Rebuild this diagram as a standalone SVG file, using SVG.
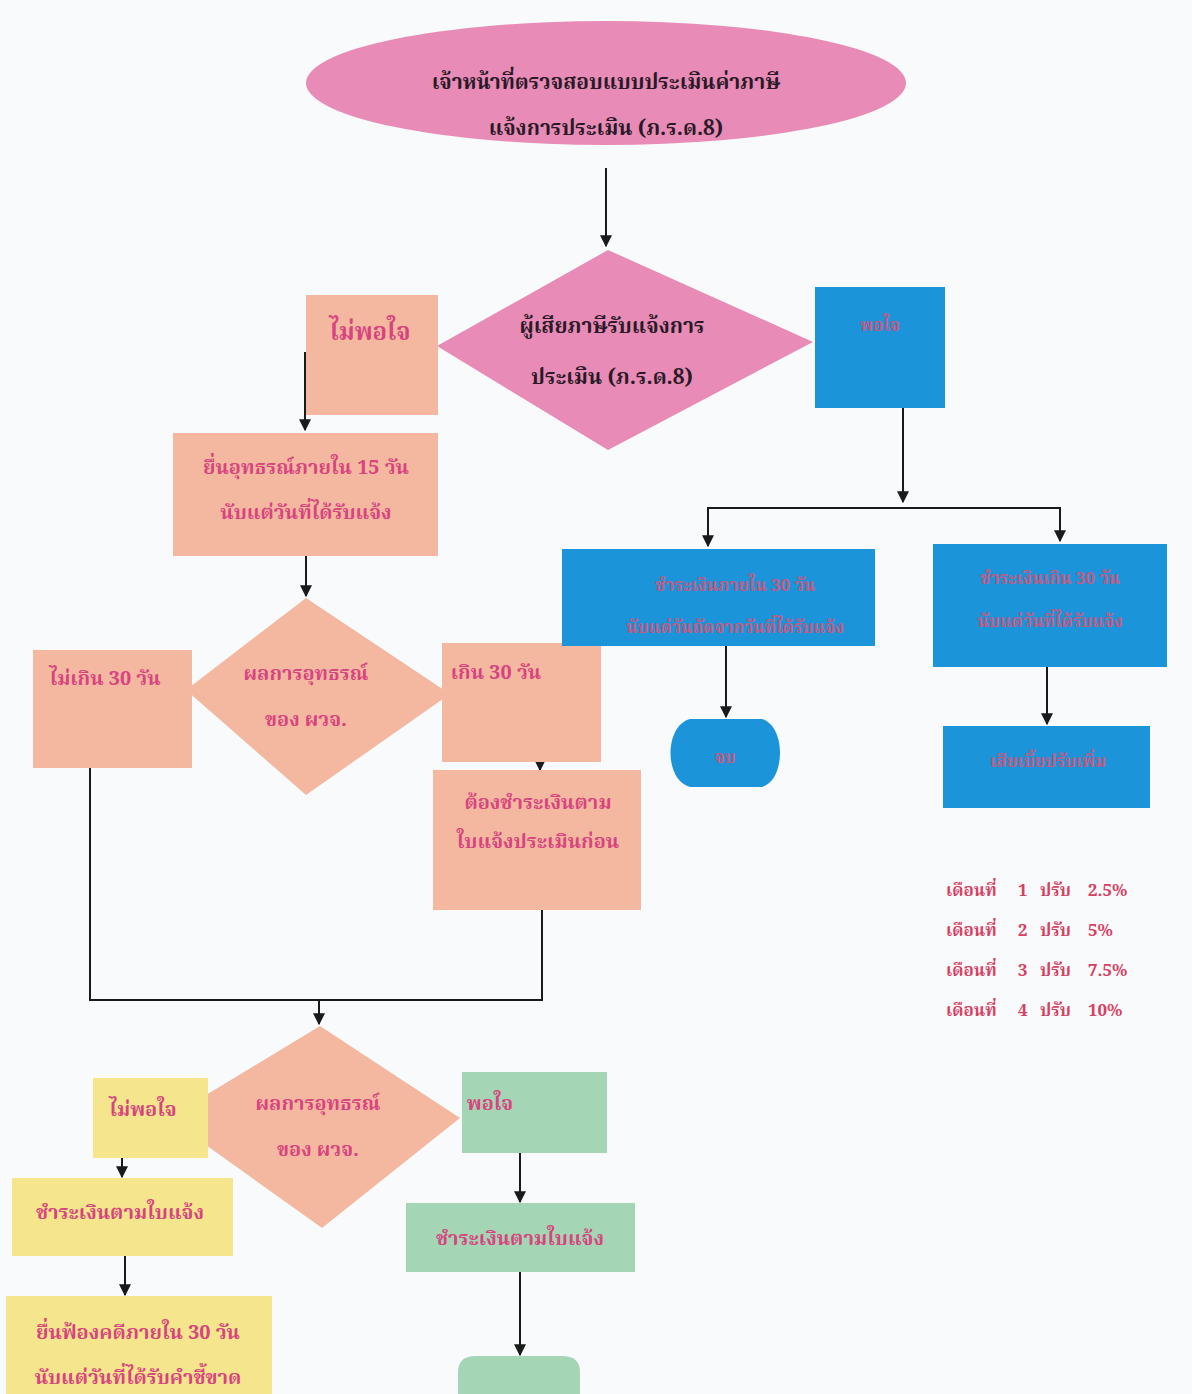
<svg xmlns="http://www.w3.org/2000/svg" width="1192" height="1394" viewBox="0 0 1192 1394">
<style>
.t{font-family:"Noto Serif Thai","Noto Sans Thai","Liberation Serif","DejaVu Serif",serif;font-weight:bold;text-anchor:middle}
.dk{fill:#2a1a28;font-size:21px}
.pk{fill:#d8447f;font-size:20px}
.bl{fill:#c9587f;font-size:17px}
.pen{fill:#d8405f;font-size:17px;text-anchor:start}
.sal{fill:#f4b8a0}
.pink{fill:#e88bb6}
.blue{fill:#1b94d9}
.yel{fill:#f5e58c}
.grn{fill:#a4d5b4}
.ln{fill:none;stroke:#1a1a1a;stroke-width:2}
</style>
<defs>
<marker id="ah" viewBox="0 0 10 10" refX="9" refY="5" markerWidth="6" markerHeight="6" orient="auto">
<path d="M0,0 L10,5 L0,10 z" fill="#1a1a1a"/>
</marker>
</defs>
<rect width="1192" height="1394" fill="#f8fafc"/>

<g id="connectors">
<path class="ln" d="M606,168 V246" marker-end="url(#ah)"/>
<path class="ln" d="M305,352 V430" marker-end="url(#ah)"/>
<path class="ln" d="M306,556 V596" marker-end="url(#ah)"/>
<path class="ln" d="M540,762 V770" marker-end="url(#ah)"/>
<path class="ln" d="M90,768 V1000 H542 V910"/>
<path class="ln" d="M319,1000 V1024" marker-end="url(#ah)"/>
<path class="ln" d="M122,1158 V1177" marker-end="url(#ah)"/>
<path class="ln" d="M125,1256 V1295" marker-end="url(#ah)"/>
<path class="ln" d="M520,1153 V1202" marker-end="url(#ah)"/>
<path class="ln" d="M520,1272 V1355" marker-end="url(#ah)"/>
<path class="ln" d="M903,408 V502" marker-end="url(#ah)"/>
<path class="ln" d="M708,546 V508 H1060 V541" marker-end="url(#ah)"/>
<path class="ln" d="M708,510 V546" marker-end="url(#ah)"/>
<path class="ln" d="M726,612 V717" marker-end="url(#ah)"/>
<path class="ln" d="M1047,645 V724" marker-end="url(#ah)"/>
</g>

<g id="n_start">
<ellipse class="pink" cx="606" cy="83" rx="300" ry="62"/>
<text class="t dk" x="606" y="89">เจ้าหน้าที่ตรวจสอบแบบประเมินค่าภาษี</text>
<text class="t dk" x="606" y="135">แจ้งการประเมิน (ภ.ร.ด.8)</text>
</g>

<g id="n_dec1">
<polygon class="pink" points="608,250 813,342 608,450 437,346"/>
<text class="t dk" x="612" y="333">ผู้เสียภาษีรับแจ้งการ</text>
<text class="t dk" x="612" y="384">ประเมิน (ภ.ร.ด.8)</text>
</g>

<g id="n_notsat1">
<rect class="sal" x="306" y="295" width="132" height="120"/>
<text class="t pk" x="370" y="340" style="font-size:24px">ไม่พอใจ</text>
</g>

<g id="n_appeal">
<rect class="sal" x="173" y="433" width="265" height="123"/>
<text class="t pk" x="306" y="474">ยื่นอุทธรณ์ภายใน 15 วัน</text>
<text class="t pk" x="306" y="519">นับแต่วันที่ได้รับแจ้ง</text>
</g>

<g id="n_dec2">
<polygon class="sal" points="306,598 450,694 306,795 186,690"/>
<text class="t pk" x="306" y="680">ผลการอุทธรณ์</text>
<text class="t pk" x="306" y="726">ของ ผวจ.</text>
</g>

<g id="n_le30">
<rect class="sal" x="33" y="650" width="159" height="118"/>
<text class="t pk" x="105" y="685">ไม่เกิน 30 วัน</text>
</g>

<g id="n_gt30">
<rect class="sal" x="442" y="643" width="159" height="119"/>
<text class="t pk" x="496" y="679">เกิน 30 วัน</text>
</g>

<g id="n_mustpay">
<rect class="sal" x="433" y="770" width="208" height="140"/>
<text class="t pk" x="538" y="809">ต้องชำระเงินตาม</text>
<text class="t pk" x="538" y="848">ใบแจ้งประเมินก่อน</text>
</g>

<g id="n_dec3">
<polygon class="sal" points="320,1026 460,1118 322,1228 168,1118"/>
<text class="t pk" x="318" y="1110">ผลการอุทธรณ์</text>
<text class="t pk" x="318" y="1156">ของ ผวจ.</text>
</g>

<g id="n_notsat2">
<rect class="yel" x="93" y="1078" width="115" height="80"/>
<text class="t pk" x="143" y="1116">ไม่พอใจ</text>
</g>

<g id="n_pay_y">
<rect class="yel" x="12" y="1178" width="221" height="78"/>
<text class="t pk" x="120" y="1219">ชำระเงินตามใบแจ้ง</text>
</g>

<g id="n_sue">
<rect class="yel" x="6" y="1296" width="266" height="110"/>
<text class="t pk" x="138" y="1339">ยื่นฟ้องคดีภายใน 30 วัน</text>
<text class="t pk" x="138" y="1384">นับแต่วันที่ได้รับคำชี้ขาด</text>
</g>

<g id="n_sat2">
<rect class="grn" x="462" y="1072" width="145" height="81"/>
<text class="t pk" x="490" y="1110">พอใจ</text>
</g>

<g id="n_pay_g">
<rect class="grn" x="406" y="1203" width="229" height="69"/>
<text class="t pk" x="520" y="1245">ชำระเงินตามใบแจ้ง</text>
</g>

<g id="n_end_g">
<path class="grn" d="M458,1394 V1372 Q458,1356 476,1356 H562 Q580,1356 580,1372 V1394 z"/>
</g>

<g id="n_sat1">
<rect class="blue" x="815" y="287" width="130" height="121"/>
<text class="t bl" x="880" y="331">พอใจ</text>
</g>

<g id="n_pay30">
<rect class="blue" x="562" y="549" width="313" height="97"/>
<text class="t bl" x="735" y="591">ชำระเงินภายใน 30 วัน</text>
<text class="t bl" x="735" y="633">นับแต่วันถัดจากวันที่ได้รับแจ้ง</text>
</g>

<g id="n_paylate">
<rect class="blue" x="933" y="544" width="234" height="123"/>
<text class="t bl" x="1050" y="584">ชำระเงินเกิน 30 วัน</text>
<text class="t bl" x="1050" y="627">นับแต่วันที่ได้รับแจ้ง</text>
</g>

<g id="n_end_b">
<path class="blue" d="M690,719 H762 C786,726 786,780 762,787 H690 C664,780 664,726 690,719 z"/>
<text class="t bl" x="725" y="763">จบ</text>
</g>

<g id="n_fine">
<rect class="blue" x="943" y="726" width="207" height="82"/>
<text class="t bl" x="1048" y="767">เสียเบี้ยปรับเพิ่ม</text>
</g>

<g id="n_penalty">
<text class="t pen" y="896"><tspan x="946">เดือนที่</tspan><tspan x="1018">1</tspan><tspan x="1040">ปรับ</tspan><tspan x="1088">2.5%</tspan></text>
<text class="t pen" y="936"><tspan x="946">เดือนที่</tspan><tspan x="1018">2</tspan><tspan x="1040">ปรับ</tspan><tspan x="1088">5%</tspan></text>
<text class="t pen" y="976"><tspan x="946">เดือนที่</tspan><tspan x="1018">3</tspan><tspan x="1040">ปรับ</tspan><tspan x="1088">7.5%</tspan></text>
<text class="t pen" y="1016"><tspan x="946">เดือนที่</tspan><tspan x="1018">4</tspan><tspan x="1040">ปรับ</tspan><tspan x="1088">10%</tspan></text>
</g>
</svg>
